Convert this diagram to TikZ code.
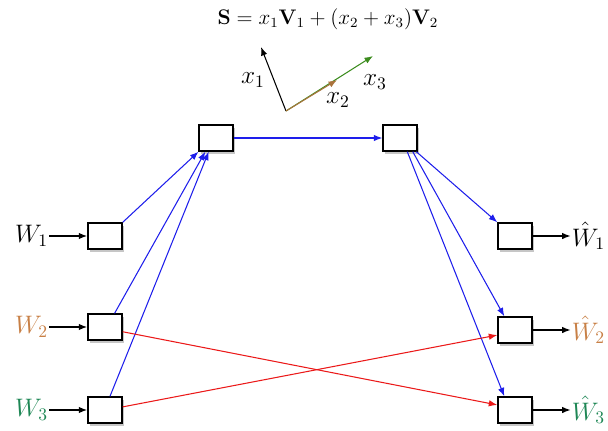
\documentclass[tikz,border=0pt]{standalone}
\usepackage{amsmath}
\usepackage{amssymb}
\usepackage{tikz}
\usetikzlibrary{arrows.meta, positioning, shadows, calc}
\usepackage{xcolor}
\definecolor{wtwo}{RGB}{200,128,70}
\definecolor{wthree}{RGB}{30,135,85}
\definecolor{xtwo}{RGB}{170,115,60}
\definecolor{xthree}{RGB}{60,140,30}
\definecolor{linkblue}{RGB}{30,30,235}
\definecolor{crossred}{RGB}{235,25,25}

\begin{document}
\begin{tikzpicture}[
    x=0.02cm, y=-0.02cm,
    >={Latex[length=1.7mm, width=1.3mm]},
    blk/.style={rectangle, draw, thick, fill=white, minimum width=0.68cm, minimum height=0.52cm, drop shadow={shadow xshift=1.2pt, shadow yshift=-1.8pt, opacity=0.45}},
    lbl/.style={inner sep=0.5pt, font=\Large},
    io/.style={->, thick},
    link/.style={->, linkblue, line width=0.6pt},
    cross/.style={->, crossred, line width=0.6pt}
]
\useasboundingbox (0,0) rectangle (608,430);

% formula and vectors
\node (eq) at (328,19) {\large $\mathbf{S} = x_1\mathbf{V}_1 + (x_2 + x_3)\mathbf{V}_2$};
\coordinate (o) at (286,111);
\coordinate (t1) at (261,47);
\coordinate (t2) at (337,80);
\coordinate (t3) at (373,56);
\draw[->, semithick] (o) -- (t1);
\draw[->, xthree, semithick] (o) -- (t3);
\draw[->, xtwo, semithick] (o) -- (t2);
\node[lbl] (x1) at (253,80) {$x_1$};
\node[lbl] (x2) at (338,100) {$x_2$};
\node[lbl] (x3) at (375,82) {$x_3$};

% boxes
\node[blk] (w1box) at (105,236) {};
\node[blk] (w2box) at (105,327) {};
\node[blk] (w3box) at (105,410) {};
\node[blk] (enc) at (216,138) {};
\node[blk] (dec) at (400,138) {};
\node[blk] (r1box) at (515,236) {};
\node[blk] (r2box) at (515,330) {};
\node[blk] (r3box) at (515,410) {};

% inputs and outputs
\node[lbl, left=0.76cm of w1box] (w1) {$W_1$};
\node[lbl, left=0.76cm of w2box, text=wtwo] (w2) {$W_2$};
\node[lbl, left=0.76cm of w3box, text=wthree] (w3) {$W_3$};
\node[lbl, right=0.76cm of r1box] (r1) {$\hat{W}_1$};
\node[lbl, right=0.76cm of r2box, text=wtwo] (r2) {$\hat{W}_2$};
\node[lbl, right=0.76cm of r3box, text=wthree] (r3) {$\hat{W}_3$};

\draw[io] (w1) -- (w1box);
\draw[io] (w2) -- (w2box);
\draw[io] (w3) -- (w3box);
\draw[io] (r1box) -- (r1);
\draw[io] (r2box) -- (r2);
\draw[io] (r3box) -- (r3);

% links
\draw[link] (w1box.north east) -- (enc.-142);
\draw[link] (w2box.55) -- (enc.-128);
\draw[link] (w3box.70) -- (enc.-118);
\draw[link] (enc) -- (dec);
\draw[link] (dec.-40) -- (r1box.north west);
\draw[link] (dec.-47) -- (r2box.128);
\draw[link] (dec.-62) -- (r3box.128);
\draw[cross] (w2box.-15) -- (r3box.164);
\draw[cross] (w3box.10) -- (r2box.-164);
\end{tikzpicture}
\end{document}
